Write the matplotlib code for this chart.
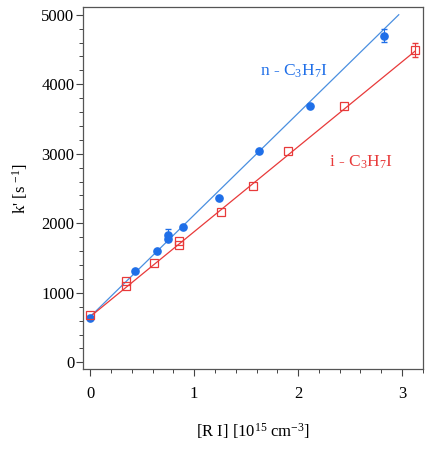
import matplotlib
matplotlib.use("Agg")
import matplotlib.pyplot as plt
import numpy as np
from matplotlib.ticker import MultipleLocator

plt.rcParams['font.family'] = ['Liberation Serif', 'DejaVu Serif']
plt.rcParams['mathtext.fontset'] = 'custom'
plt.rcParams['mathtext.rm'] = 'Liberation Serif'
plt.rcParams['mathtext.it'] = 'Liberation Serif'

# n-C3H7I data
n_x = [0.0, 0.434, 0.639, 0.752, 0.752, 0.890, 1.243, 1.622, 2.114, 2.830]
n_y = [633, 1310, 1598, 1833, 1775, 1943, 2370, 3033, 3690, 4698]
n_err = [0, 0, 0, 90, 0, 0, 0, 0, 0, 95]
# i-C3H7I data
i_x = [0.0, 0.340, 0.340, 0.610, 0.855, 0.855, 1.259, 1.568, 1.899, 2.438, 3.126]
i_y = [681, 1176, 1104, 1430, 1751, 1689, 2159, 2543, 3042, 3690, 4496]
i_err = [0, 0, 0, 0, 0, 0, 0, 0, 0, 0, 100]

# fit lines (intercept, slope, x-range)
n_fit = (657, 1463, 0.0, 2.968)
i_fit = (657, 1222, 0.0, 3.126)

blue = '#1f6fe8'
blue_line = '#4a8fe0'
red = '#e83a3a'

fig = plt.figure(figsize=(4.28, 4.49), dpi=100)
ax = fig.add_axes([0.193, 0.1775, 0.795, 0.8065])

xs = np.array([n_fit[2], n_fit[3]])
ax.plot(xs, n_fit[0] + n_fit[1] * xs, color=blue_line, lw=0.9, zorder=2)
xs = np.array([i_fit[2], i_fit[3]])
ax.plot(xs, i_fit[0] + i_fit[1] * xs, color=red, lw=0.9, zorder=2)

def err_subset(x, y, e):
    idx = [k for k, v in enumerate(e) if v > 0]
    return [x[k] for k in idx], [y[k] for k in idx], [e[k] for k in idx]

ex, ey, ee = err_subset(n_x, n_y, n_err)
ax.errorbar(ex, ey, yerr=ee, fmt='none', ecolor=blue, elinewidth=0.8, capsize=2.5, zorder=3)
ex, ey, ee = err_subset(i_x, i_y, i_err)
ax.errorbar(ex, ey, yerr=ee, fmt='none', ecolor=red, elinewidth=0.8, capsize=2.5, zorder=3)

ax.plot(n_x, n_y, 'o', ms=5.2, color=blue, mec=blue, zorder=4)
ax.plot(i_x, i_y, 's', ms=5.5, mfc='none', mec=red, mew=0.9, zorder=4)

ax.text(1.635, 4184, r'n - C$_3$H$_7$I', color=blue, fontsize=12.5, va='center', ha='left')
ax.text(2.3, 2875, r'i - C$_3$H$_7$I', color=red, fontsize=12.5, va='center', ha='left')

ax.set_xlim(-0.073, 3.20)
ax.set_ylim(-100, 5108)
ax.xaxis.set_major_locator(MultipleLocator(1))
ax.xaxis.set_minor_locator(MultipleLocator(0.2))
ax.yaxis.set_major_locator(MultipleLocator(1000))
ax.yaxis.set_minor_locator(MultipleLocator(200))
ax.tick_params(which='major', direction='out', length=5, width=0.8, labelsize=12,
               color='#444444')
ax.tick_params(which='minor', direction='out', length=3, width=0.7, color='#444444')
ax.tick_params(axis='x', pad=7)
ax.tick_params(axis='y', pad=1)
for s in ax.spines.values():
    s.set_color('#555555')
    s.set_linewidth(0.9)

ax.set_ylabel(r"k' [s $^{-1}$]", fontsize=12, labelpad=8)
ax.set_xlabel(r"[R I] [10$^{15}$ cm$^{-3}$]", fontsize=12, labelpad=14)

fig.savefig('out.png', dpi=100)
